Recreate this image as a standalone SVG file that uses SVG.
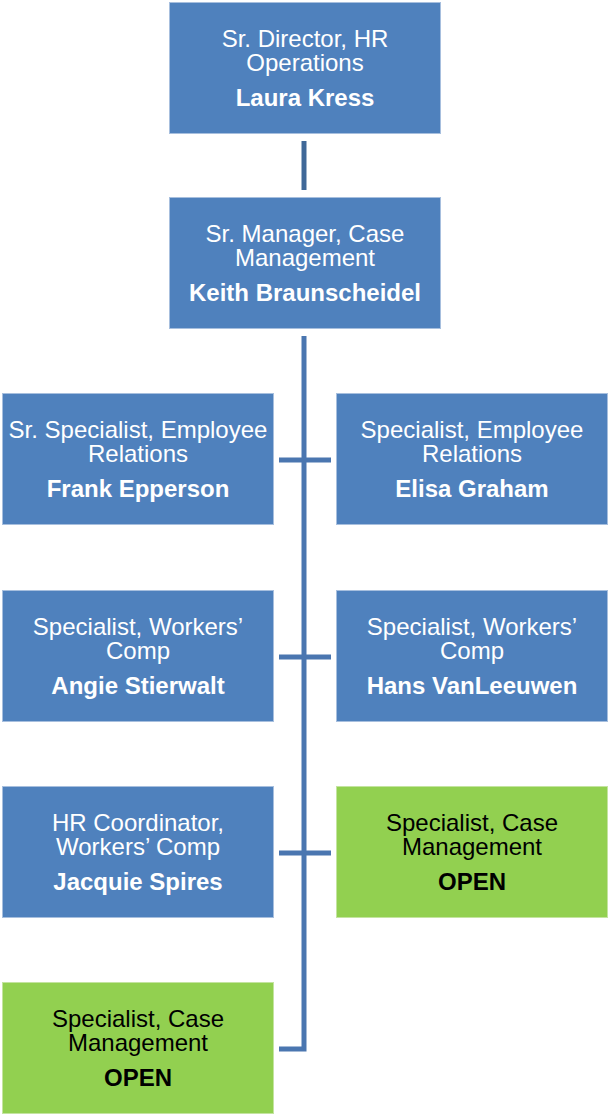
<svg xmlns="http://www.w3.org/2000/svg" width="608" height="1114" viewBox="0 0 608 1114">
<style>
.b{fill:#4F81BD;stroke:#A7BFDE;stroke-width:1}
.g{fill:#92D050;stroke:#C4E4A0;stroke-width:1}
text{font-family:"Liberation Sans",Arial,sans-serif;font-size:24px;text-anchor:middle}
.w{fill:#FFFFFF}
.k{fill:#000000}
.n{font-weight:bold}
.c{stroke:#4A76B0;stroke-width:5;fill:none}
</style>
<rect width="608" height="1114" fill="#FFFFFF"/>
<g id="connectors">
<line x1="304" y1="141" x2="304" y2="190" stroke="#3F6898" stroke-width="5"/>
<polyline class="c" points="304,336 304,1049 279,1049"/>
<line class="c" x1="279" y1="460" x2="331" y2="460"/>
<line class="c" x1="279" y1="657" x2="331" y2="657"/>
<line class="c" x1="279" y1="853" x2="331" y2="853"/>
</g>
<g id="n1"><rect class="b" x="169.5" y="2.5" width="271" height="131"/>
<text class="w" x="305" y="47">Sr. Director, HR</text><text class="w" x="305" y="71">Operations</text><text class="w n" x="305" y="106">Laura Kress</text></g>
<g id="n2"><rect class="b" x="169.5" y="197.5" width="271" height="131"/>
<text class="w" x="305" y="242">Sr. Manager, Case</text><text class="w" x="305" y="266">Management</text><text class="w n" x="305" y="301">Keith Braunscheidel</text></g>
<g id="n3"><rect class="b" x="2.5" y="393.5" width="271" height="131"/>
<text class="w" x="138" y="438">Sr. Specialist, Employee</text><text class="w" x="138" y="462">Relations</text><text class="w n" x="138" y="497">Frank Epperson</text></g>
<g id="n4"><rect class="b" x="336.5" y="393.5" width="271" height="131"/>
<text class="w" x="472" y="438">Specialist, Employee</text><text class="w" x="472" y="462">Relations</text><text class="w n" x="472" y="497">Elisa Graham</text></g>
<g id="n5"><rect class="b" x="2.5" y="590.5" width="271" height="131"/>
<text class="w" x="138" y="635">Specialist, Workers’</text><text class="w" x="138" y="659">Comp</text><text class="w n" x="138" y="694">Angie Stierwalt</text></g>
<g id="n6"><rect class="b" x="336.5" y="590.5" width="271" height="131"/>
<text class="w" x="472" y="635">Specialist, Workers’</text><text class="w" x="472" y="659">Comp</text><text class="w n" x="472" y="694">Hans VanLeeuwen</text></g>
<g id="n7"><rect class="b" x="2.5" y="786.5" width="271" height="131"/>
<text class="w" x="138" y="831">HR Coordinator,</text><text class="w" x="138" y="855">Workers’ Comp</text><text class="w n" x="138" y="890">Jacquie Spires</text></g>
<g id="n8"><rect class="g" x="336.5" y="786.5" width="271" height="131"/>
<text class="k" x="472" y="831">Specialist, Case</text><text class="k" x="472" y="855">Management</text><text class="k n" x="472" y="890">OPEN</text></g>
<g id="n9"><rect class="g" x="2.5" y="982.5" width="271" height="131"/>
<text class="k" x="138" y="1027">Specialist, Case</text><text class="k" x="138" y="1051">Management</text><text class="k n" x="138" y="1086">OPEN</text></g>
</svg>
